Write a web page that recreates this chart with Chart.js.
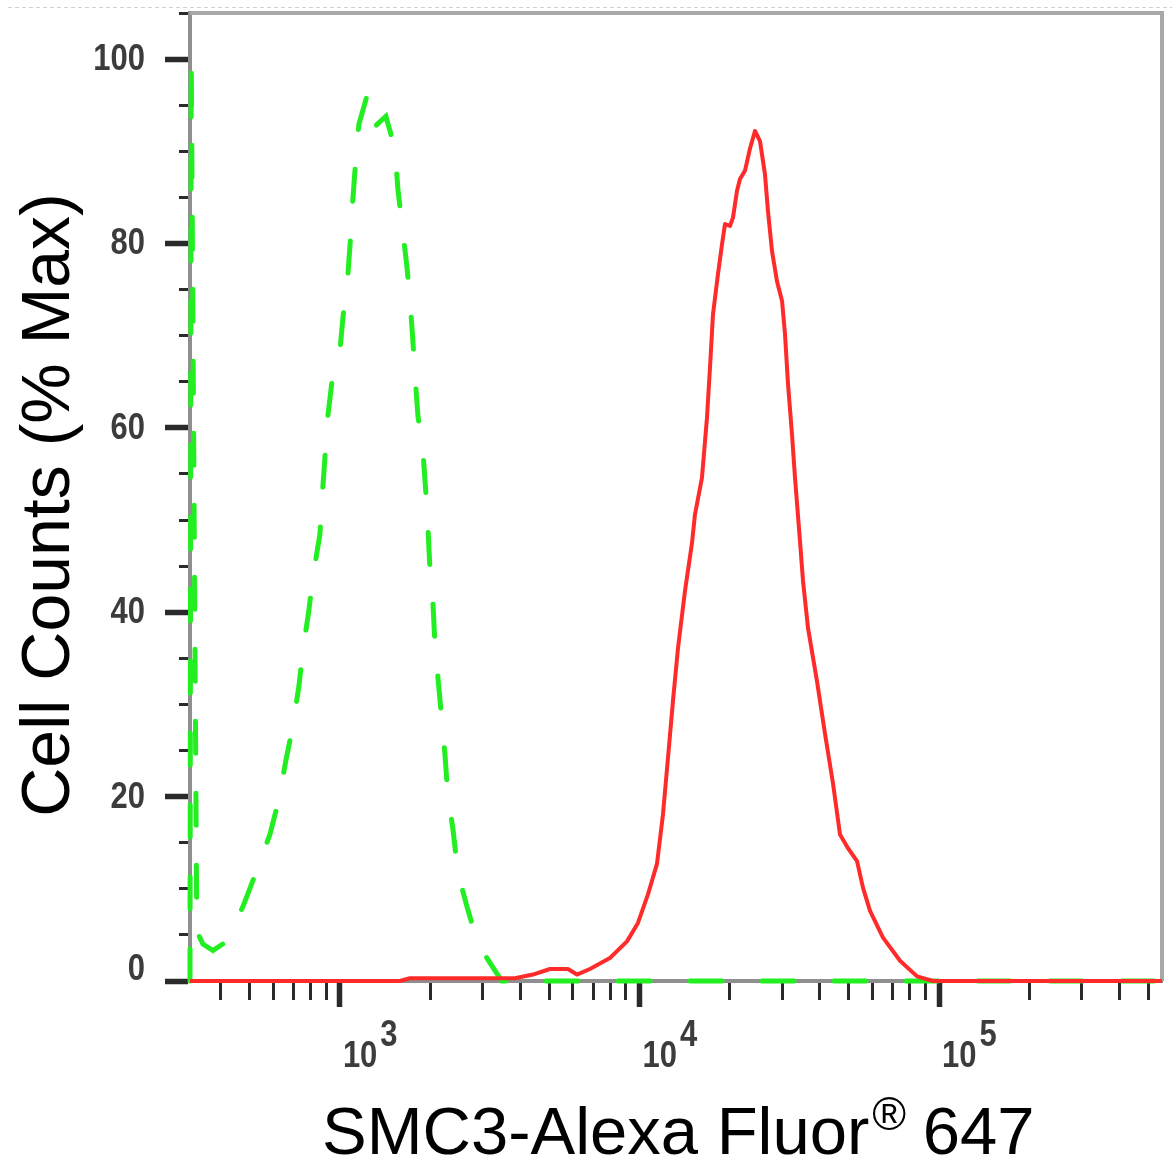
<!DOCTYPE html>
<html>
<head>
<meta charset="utf-8">
<script src="https://cdn.jsdelivr.net/npm/chart.js@4.4.1/dist/chart.umd.min.js"></script>
<style>
  html, body { margin: 0; padding: 0; background: #ffffff; }
  #wrap { width: 1172px; height: 1162px; position: relative; }
</style>
</head>
<body>
<div id="wrap"><canvas id="c" width="1172" height="1162"></canvas></div>
<script>
// ---------- data ----------
const X_MIN = 316;      // left edge of the log axis
const X_MAX = 555000;   // right edge of the log axis
const Y_MIN = 0;
const Y_MAX = 105;

// Isotype control (green dashed)
const greenX = [316, 319, 333, 349, 377, 419, 475, 524, 584, 626,
                660, 697, 730, 752, 788, 812, 858, 871, 891, 905,
                940, 1000, 1031, 1063, 1088, 1105, 1131, 1157, 1231, 1289,
                1424, 1526, 1562, 1611, 1674, 1713, 1753, 1780, 1822, 1893,
                1937, 1967, 1998, 2045, 2076, 2125, 2191, 2242, 2294, 2384,
                2478, 2655, 2889, 3344, 3475, 555000];
const greenY = [0, 100, 5.4, 4.0, 3.3, 4.3, 8.1, 11.7, 15.9, 19.7,
                23.9, 27.7, 32.0, 35.8, 40.2, 43.7, 48.5, 52.1, 56.7, 60.4,
                64.9, 68.3, 73.0, 76.5, 81.1, 84.8, 89.3, 92.9, 96.0, 92.5,
                93.8, 90.3, 85.9, 82.1, 77.5, 74.0, 69.4, 65.8, 61.3, 57.5,
                52.9, 49.3, 44.8, 41.0, 36.6, 32.9, 28.2, 24.6, 20.1, 16.5,
                11.7, 8.1, 4.0, 0.8, 0, 0];

// SMC3 stained (red solid)
const redX = [316, 1586, 1713, 3839, 4411, 5025, 5772, 6184, 6834, 7970,
              9085, 9886, 10675, 11441, 11983, 12452, 12940, 13447, 14189, 14973,
              15322, 16170, 16803, 17195, 17596, 18286, 18859, 19298, 20054, 20521,
              21161, 21655, 22506, 23388, 24302, 25255, 26244, 26853, 27695, 28780,
              29910, 30605, 31318, 32299, 33052, 34349, 35150, 36524, 39147, 41640,
              44280, 46715, 49683, 53246, 55762, 58840, 65013, 74100, 84444, 95500,
              555000];
const redY = [0, 0, 0.3, 0.3, 0.7, 1.3, 1.3, 0.7, 1.3, 2.5,
              4.3, 6.3, 9.4, 12.7, 18.1, 24.2, 30.4, 36.1, 42.3, 47.5,
              50.6, 54.6, 61.1, 66.5, 72.3, 76.7, 79.9, 82.1, 81.9, 82.8,
              85.7, 87.0, 87.9, 90.3, 92.2, 91.1, 87.5, 83.5, 79.2, 75.9,
              73.8, 70.2, 64.8, 59.3, 54.6, 47.7, 43.4, 38.3, 32.5, 26.8,
              21.4, 15.9, 14.4, 13.0, 10.1, 7.6, 4.7, 2.2, 0.5, 0,
              0];

// ticks
const xTicks = [400, 500, 600, 700, 800, 900,
                1000, 2000, 3000, 4000, 5000, 6000, 7000, 8000, 9000,
                10000, 20000, 30000, 40000, 50000, 60000, 70000, 80000, 90000,
                100000, 200000, 300000, 400000, 500000];
const xMajorTicks = [1000, 10000, 100000];
const xMajorExp = ['3', '4', '5'];
const yTicks = [0, 5, 10, 15, 20, 25, 30, 35, 40, 45, 50, 55, 60, 65, 70, 75, 80, 85, 90, 95, 100, 105];
const yMajorTicks = [0, 20, 40, 60, 80, 100];

const xTitleMain = 'SMC3-Alexa Fluor';
const xTitleSup = '®';
const xTitleEnd = ' 647';
const yTitle = 'Cell Counts (% Max)';

// ---------- styling ----------
const TICK_FONT = "bold 36px 'Liberation Sans', Arial, sans-serif";
const TICK_SQUEEZE = 0.86;
const TITLE_FAMILY = "'Liberation Sans', Arial, sans-serif";
const TICK_TEXT = '#3c3c3c';
const TICK_MARK = '#2a2a2a';
const AXIS_GRAY = '#8f8f8f';
const FRAME_GRAY = '#a8a8a8';

const toPts = (xs, ys) => xs.map((x, i) => ({ x: x, y: ys[i] }));

function narrowText(ctx, text, x, y, align) {
  ctx.save();
  ctx.translate(x, y);
  ctx.scale(TICK_SQUEEZE, 1);
  ctx.textAlign = align;
  ctx.fillText(text, 0, 0);
  ctx.restore();
}

const decor = {
  id: 'decor',
  beforeDatasetsDraw(chart) {
    const { ctx, chartArea: a } = chart;
    ctx.save();
    ctx.strokeStyle = FRAME_GRAY;
    ctx.lineWidth = 4;
    ctx.beginPath();
    ctx.moveTo(a.left, a.top);
    ctx.lineTo(a.right, a.top);
    ctx.lineTo(a.right, a.bottom);
    ctx.stroke();
    ctx.restore();
  },
  afterDraw(chart) {
    const { ctx } = chart;
    const xs = chart.scales.x;
    const ys = chart.scales.y;
    ctx.save();
    // faint dashed line at the very top of the picture
    ctx.strokeStyle = '#cfcfcf';
    ctx.lineWidth = 1;
    ctx.setLineDash([4, 3]);
    ctx.beginPath();
    ctx.moveTo(8, 7.5);
    ctx.lineTo(1172, 7.5);
    ctx.stroke();
    ctx.setLineDash([]);

    ctx.fillStyle = TICK_TEXT;
    ctx.font = TICK_FONT;

    // y tick labels
    ctx.textBaseline = 'middle';
    yMajorTicks.forEach((v) => {
      let py = ys.getPixelForValue(v);
      if (v === 0) py -= 12;           // the zero label sits above the axis line
      narrowText(ctx, String(v), 145, py + 1, 'right');
    });

    // x tick labels: "10" with raised exponent
    ctx.textBaseline = 'alphabetic';
    xMajorTicks.forEach((v, i) => {
      const px = xs.getPixelForValue(v);
      narrowText(ctx, '10', px + 3, 1067, 'left');
      const w = ctx.measureText('10').width * TICK_SQUEEZE;
      narrowText(ctx, xMajorExp[i], px + 3 + w + 3, 1046, 'left');
    });

    // x title
    ctx.fillStyle = '#000000';
    ctx.textAlign = 'left';
    ctx.font = '67px ' + TITLE_FAMILY;
    let tx = 322;
    ctx.fillText(xTitleMain, tx, 1154);
    tx += ctx.measureText(xTitleMain).width + 3;
    ctx.font = '46px ' + TITLE_FAMILY;
    ctx.fillText(xTitleSup, tx, 1130);
    tx += ctx.measureText(xTitleSup).width - 2;
    ctx.font = '67px ' + TITLE_FAMILY;
    ctx.fillText(xTitleEnd, tx, 1154);

    // y title
    ctx.translate(69, 505);
    ctx.rotate(-Math.PI / 2);
    ctx.font = '68px ' + TITLE_FAMILY;
    ctx.textAlign = 'center';
    ctx.fillText(yTitle, 0, 0);
    ctx.restore();
  }
};

new Chart(document.getElementById('c'), {
  type: 'line',
  data: {
    datasets: [
      {
        label: 'SMC3',
        data: toPts(redX, redY),
        borderColor: '#ff2b2b',
        borderWidth: 4,
        pointRadius: 0,
        tension: 0,
        fill: false,
        clip: false,
        borderJoinStyle: 'round'
      },
      {
        label: 'Isotype',
        data: toPts(greenX, greenY),
        borderColor: '#22ee22',
        borderWidth: 5,
        borderDash: [32, 40],
        borderCapStyle: 'round',
        pointRadius: 0,
        tension: 0,
        fill: false,
        clip: false
      }
    ]
  },
  options: {
    responsive: false,
    animation: false,
    devicePixelRatio: 1,
    layout: { padding: { top: 13, right: 10, bottom: 0, left: 0 } },
    plugins: { legend: { display: false }, tooltip: { enabled: false }, title: { display: false } },
    scales: {
      x: {
        type: 'logarithmic',
        position: 'bottom',
        min: X_MIN,
        max: X_MAX,
        afterBuildTicks: (s) => { s.ticks = xTicks.map(v => ({ value: v })); },
        afterFit: (s) => { s.height = 181; s.paddingLeft = 0; s.paddingRight = 0; },
        ticks: { display: false, autoSkip: false },
        grid: {
          drawOnChartArea: false,
          drawTicks: true,
          tickLength: 26,
          tickColor: TICK_MARK,
          tickWidth: (c) => (c.tick && xMajorTicks.includes(c.tick.value)) ? 5.5 : 3,
          tickBorderDash: (c) => (c.tick && xMajorTicks.includes(c.tick.value)) ? [] : [17, 100]
        },
        border: { display: true, color: AXIS_GRAY, width: 4 }
      },
      y: {
        type: 'linear',
        position: 'left',
        min: Y_MIN,
        max: Y_MAX,
        afterBuildTicks: (s) => { s.ticks = yTicks.map(v => ({ value: v })); },
        afterFit: (s) => { s.width = 190; s.paddingTop = 0; s.paddingBottom = 0; },
        ticks: { display: false, autoSkip: false },
        grid: {
          drawOnChartArea: false,
          drawTicks: true,
          tickLength: 25,
          tickColor: TICK_MARK,
          tickWidth: (c) => (c.tick && yMajorTicks.includes(c.tick.value)) ? 5.5 : 3,
          tickBorderDash: (c) => (c.tick && yMajorTicks.includes(c.tick.value)) ? [] : [0, 14, 11, 100]
        },
        border: { display: true, color: AXIS_GRAY, width: 4 }
      }
    }
  },
  plugins: [decor]
});
</script>
</body>
</html>
